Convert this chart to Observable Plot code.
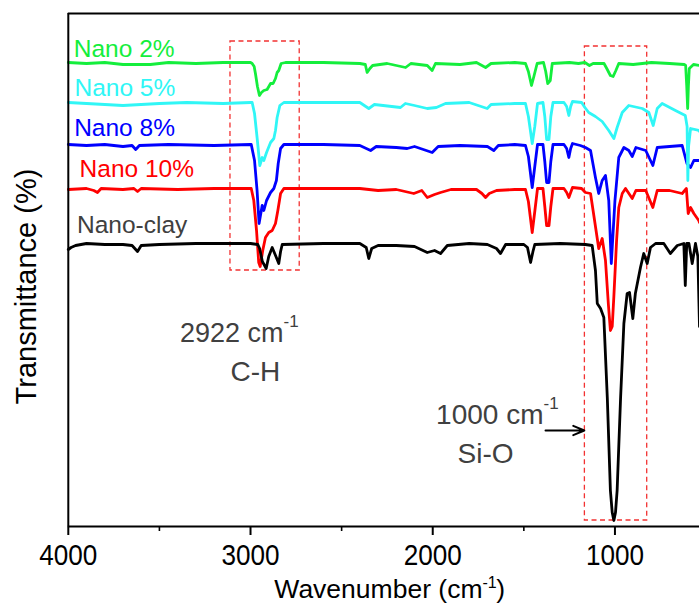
<!DOCTYPE html>
<html><head><meta charset="utf-8">
<script src="https://cdn.jsdelivr.net/npm/d3@7"></script>
<script src="https://cdn.jsdelivr.net/npm/@observablehq/plot@0.6"></script>
<style>html,body{margin:0;padding:0;background:#fff;} svg{display:block}</style>
</head><body><div id="chart"></div>
<script>
// FTIR spectra, [wavenumber (cm-1), transmittance (offset, a.u.)]
const nano2 = [[4000,464],[3900,463],[3800,464],[3700,462],[3550,462],[3450,464],[3300,463],[3150,464],[3000,464],[2991,463],[2980,460],[2973,453],[2962,440],[2951,431],[2940,434],[2927,436],[2909,437],[2890,443],[2876,443],[2863,448],[2854,454],[2845,456],[2832,463],[2808,464],[2600,464],[2400,463],[2370,462],[2360,454],[2345,458],[2330,461],[2250,463],[2149,459],[2120,463],[2030,461],[2003,456],[1985,463],[1850,462],[1760,464],[1710,459],[1680,463],[1550,464],[1491,463],[1475,455],[1458,441],[1445,450],[1427,463],[1392,464],[1380,455],[1369,443],[1355,446],[1344,463],[1250,464],[1200,463],[1165,464],[1140,461],[1120,463],[1060,463],[1045,458],[1025,451],[1010,450],[995,456],[979,463],[900,462],[800,464],[700,463],[620,462],[612,461],[606,440],[601,418],[597,440],[592,458],[569,462],[536,461]];
const nano5 = [[4000,424],[3900,423],[3800,422],[3700,421],[3600,422],[3500,423],[3350,424],[3150,423],[3000,424],[2991,424],[2978,413],[2964,389],[2949,361],[2936,369],[2927,366],[2912,374],[2890,384],[2872,388],[2863,396],[2854,409],[2839,421],[2817,424],[2600,424],[2400,424],[2351,418],[2320,422],[2177,419],[2150,423],[2100,421],[2030,418],[1980,419],[1930,423],[1800,424],[1701,418],[1680,422],[1550,423],[1491,423],[1475,410],[1454,383],[1440,400],[1425,423],[1395,424],[1385,410],[1375,387],[1362,387],[1352,410],[1340,424],[1280,424],[1265,420],[1253,411],[1243,420],[1233,425],[1183,424],[1165,419],[1144,414],[1107,410],[1070,405],[1034,396],[1006,388],[988,399],[960,414],[924,421],[850,418],[814,414],[790,401],[768,418],[741,423],[668,416],[614,411],[604,400],[600,346],[596,380],[585,398],[540,396],[536,395]];
const nano8 = [[4000,382],[3900,381],[3800,382],[3700,380],[3650,381],[3630,377],[3610,381],[3450,382],[3200,381],[3000,382],[2996,382],[2978,366],[2964,336],[2953,303],[2936,321],[2927,316],[2912,326],[2890,334],[2872,338],[2858,346],[2848,363],[2835,378],[2817,382],[2600,382],[2400,381],[2341,376],[2310,380],[2200,379],[2140,378],[2100,380],[2003,374],[1970,380],[1850,381],[1700,380],[1665,376],[1640,381],[1550,382],[1491,381],[1475,370],[1454,339],[1440,360],[1425,382],[1395,382],[1385,365],[1375,344],[1362,344],[1352,365],[1340,382],[1280,382],[1265,378],[1253,369],[1243,378],[1233,383],[1190,381],[1162,379],[1134,376],[1107,349],[1089,333],[1070,346],[1052,351],[1034,326],[1020,263],[1000,326],[979,369],[951,379],[924,376],[905,370],[885,379],[831,376],[792,361],[768,379],[700,380],[631,381],[605,363],[585,359],[567,366],[536,366]];
const nano10 = [[4000,337],[3900,338],[3860,336],[3840,334],[3820,338],[3700,337],[3640,338],[3620,335],[3600,338],[3400,337],[3200,338],[3000,338],[2996,338],[2982,326],[2967,296],[2955,264],[2947,260],[2933,276],[2918,289],[2900,294],[2881,296],[2863,303],[2850,316],[2835,333],[2817,338],[2600,338],[2400,338],[2300,336],[2200,337],[2104,333],[2060,336],[2030,329],[1990,332],[1957,334],[1900,337],[1760,337],[1730,333],[1710,329],[1690,333],[1650,336],[1550,337],[1491,337],[1475,325],[1454,294],[1440,315],[1425,338],[1395,338],[1385,320],[1375,301],[1362,301],[1352,320],[1340,338],[1280,338],[1265,334],[1253,329],[1243,334],[1233,339],[1183,338],[1162,334],[1134,333],[1120,316],[1089,278],[1070,288],[1052,266],[1036,222],[1025,196],[1015,200],[1006,230],[991,286],[979,319],[960,333],[942,338],[905,328],[885,336],[831,336],[792,319],[768,336],[700,336],[631,333],[608,338],[598,313],[585,319],[567,313],[540,306],[536,304]];
const nanoClay = [[4000,277],[3985,279],[3960,281],[3900,283],[3800,282],[3700,282],[3650,281],[3620,275],[3600,281],[3500,282],[3300,283],[3000,283],[2960,282],[2950,278],[2935,265],[2914,258],[2900,270],[2881,279],[2865,272],[2845,263],[2835,275],[2826,282],[2600,283],[2400,283],[2365,279],[2351,268],[2335,278],[2300,281],[2200,281],[2100,280],[2030,274],[1990,276],[1957,273],[1920,281],[1800,283],[1700,282],[1650,278],[1628,273],[1600,282],[1500,282],[1480,279],[1463,264],[1450,275],[1440,282],[1300,283],[1162,282],[1125,281],[1107,256],[1097,223],[1079,218],[1061,209],[1042,129],[1025,36],[1015,14],[1006,6],[997,14],[988,36],[969,129],[951,203],[933,233],[920,234],[902,208],[888,233],[860,259],[842,273],[823,263],[805,279],[777,283],[732,283],[696,273],[658,281],[622,283],[614,241],[606,283],[594,283],[576,263],[558,283],[545,270],[536,200]];

const seriesNames = ["Nano 2%", "Nano 5%", "Nano 8%", "Nano 10%", "Nano-clay"];
const seriesData = [nano2, nano5, nano8, nano10, nanoClay];
const lineColors = ["#14ee3c", "#30f6f6", "#0000ff", "#ff0000", "#000000"];
const labelColors = ["#14ee3c", "#30f6f6", "#0000ff", "#ff0000", "#404040"];
const labelAnchors = [[3970, 470], [3966, 431], [3968, 391], [3938, 350], [3952, 294]];
const majorTicks = [4000, 3000, 2000, 1000];
const minorTicks = [3500, 2500, 1500];
const boxes = [{x1: 3110, x2: 2730, y1: 256, y2: 485}, {x1: 1165, x2: 823, y1: 6, y2: 480}];

const toRows = (arr, name) => arr.map(([wn, t]) => ({wn, t, name}));
const drawOrder = [3, 2, 1, 0, 4];
const grey = "#404040";
const font = "Liberation Sans, Arial, sans-serif";

const marks = [];
// dashed highlight boxes
marks.push(Plot.rect(boxes, {x1: "x1", x2: "x2", y1: "y1", y2: "y2", fill: "none", stroke: "#f23232", strokeWidth: 1.3, strokeDasharray: "5,3.5"}));
// spectra
for (const i of drawOrder) {
  marks.push(Plot.line(toRows(seriesData[i], seriesNames[i]), {x: "wn", y: "t", stroke: lineColors[i], strokeWidth: 2.8, strokeLinejoin: "round", strokeLinecap: "round"}));
}
// frame lines
marks.push(Plot.ruleY([0], {x1: 4000, x2: 536, stroke: "black", strokeWidth: 2}));
marks.push(Plot.ruleY([513], {x1: 4000, x2: 536, stroke: "black", strokeWidth: 2}));
marks.push(Plot.ruleX([4000], {y1: 0, y2: 513, stroke: "black", strokeWidth: 2}));
// ticks
marks.push(Plot.ruleX(majorTicks, {y1: 0, y2: -9, stroke: "black", strokeWidth: 2}));
marks.push(Plot.ruleX(minorTicks, {y1: 0, y2: -5, stroke: "black", strokeWidth: 1.6}));
marks.push(Plot.text(majorTicks, {x: d => d, y: () => -38, text: d => String(d), fontSize: 30, fontFamily: font, fill: "black", textAnchor: "middle", lineAnchor: "bottom"}));
// series labels
marks.push(Plot.text(seriesNames.map((n, i) => ({n, i})), {x: d => labelAnchors[d.i][0], y: d => labelAnchors[d.i][1], text: "n", fill: d => labelColors[d.i], fontSize: 24.5, fontFamily: font, textAnchor: "start", lineAnchor: "bottom"}));
// annotations
const ann = [
  {x: 2819, y: 185, text: "2922 cm", size: 27, anchor: "end"},
  {x: 2819, y: 200, text: "-1", size: 17, anchor: "start"},
  {x: 2973, y: 146, text: "C-H", size: 28, anchor: "middle"},
  {x: 1392, y: 103, text: "1000 cm", size: 28, anchor: "end"},
  {x: 1392, y: 118, text: "-1", size: 17, anchor: "start"},
  {x: 1710, y: 64, text: "Si-O", size: 28, anchor: "middle"}
];
for (const a of ann) {
  marks.push(Plot.text([a], {x: "x", y: "y", text: "text", fontSize: a.size, fontFamily: font, fill: grey, textAnchor: a.anchor, lineAnchor: "bottom"}));
}
marks.push(Plot.arrow([{x1: 1381, x2: 1168, y: 96}], {x1: "x1", x2: "x2", y1: "y", y2: "y", stroke: "black", strokeWidth: 2, headLength: 9, headAngle: 45}));
// axis titles
marks.push(Plot.text([{x: 1727, y: -71, t: "Wavenumber (cm"}], {x: "x", y: "y", text: "t", fontSize: 26.5, fontFamily: font, fill: "black", textAnchor: "end", lineAnchor: "bottom"}));
marks.push(Plot.text([{x: 1727, y: -61, t: "-1"}], {x: "x", y: "y", text: "t", fontSize: 16, fontFamily: font, fill: "black", textAnchor: "start", lineAnchor: "bottom"}));
marks.push(Plot.text([{x: 1652, y: -71, t: ")"}], {x: "x", y: "y", text: "t", fontSize: 26.5, fontFamily: font, fill: "black", textAnchor: "start", lineAnchor: "bottom"}));
marks.push(Plot.text([{x: 4180, y: 240, t: "Transmittance (%)"}], {x: "x", y: "y", text: "t", fontSize: 29, fontFamily: font, fill: "black", rotate: -90, textAnchor: "middle", lineAnchor: "bottom"}));

const chart = Plot.plot({
  width: 699,
  height: 604,
  marginLeft: 67.8,
  marginRight: 0,
  marginTop: 13,
  marginBottom: 78,
  x: {type: "linear", domain: [4000, 536], axis: null},
  y: {type: "linear", domain: [0, 513], axis: null},
  style: {fontFamily: font, background: "white", overflow: "visible"},
  marks
});
// condense the tick labels horizontally, as in the reference
d3.select(chart).selectAll("text").each(function() {
  if (majorTicks.map(String).includes(this.textContent)) {
    const x = +this.getAttribute("x") || 0, y = +this.getAttribute("y") || 0;
    this.removeAttribute("x"); this.removeAttribute("y");
    const t = this.getAttribute("transform") || "";
    this.setAttribute("transform", `${t} translate(${x},${y}) scale(0.87,1)`);
  }
});
document.getElementById("chart").appendChild(chart);
</script>
</body></html>
